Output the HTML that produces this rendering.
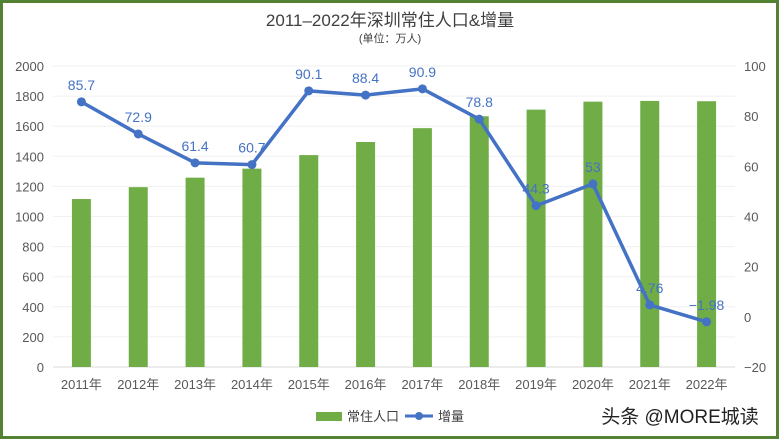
<!DOCTYPE html>
<html><head><meta charset="utf-8"><style>
body{margin:0;background:#fff}
svg{display:block;font-family:"Liberation Sans","Noto Sans CJK SC",sans-serif}
</style></head><body>
<svg id="c" width="779" height="439">
<rect x="1.5" y="1.5" width="776" height="436" fill="#fff" stroke="#548235" stroke-width="3"/>
<text x="390" y="26" text-anchor="middle" font-size="17" fill="#404040">2011–2022年深圳常住人口&amp;增量</text>
<text x="390" y="42" text-anchor="middle" font-size="11" fill="#404040">(单位：万人)</text>
<g id="grid"></g><g id="bars"></g><g id="line"></g><g id="axes"></g>
<g>
<rect x="316" y="412" width="26" height="9" fill="#70ad47"/>
<text x="347" y="421" font-size="13" fill="#404040">常住人口</text>
<line x1="405" y1="416" x2="433" y2="416" stroke="#4472c4" stroke-width="3"/>
<circle cx="419" cy="416" r="4" fill="#4472c4"/>
<text x="438" y="421" font-size="13" fill="#404040">增量</text>
</g>
<text x="680" y="423" text-anchor="middle" font-size="19" fill="#222">头条 @MORE城读</text>
</svg>
<script>
const categories=["2011年","2012年","2013年","2014年","2015年","2016年","2017年","2018年","2019年","2020年","2021年","2022年"];
const population=[1116,1195,1258,1318,1408,1495,1587,1666,1710,1763,1768,1766];
const increase=[85.7,72.9,61.4,60.7,90.1,88.4,90.9,78.8,44.3,53,4.76,-1.98];
const increaseLabels=["85.7","72.9","61.4","60.7","90.1","88.4","90.9","78.8","44.3","53","4.76","−1.98"];
const leftTicks=[0,200,400,600,800,1000,1200,1400,1600,1800,2000];
const rightTicks=[-20,0,20,40,60,80,100];
const NS="http://www.w3.org/2000/svg";
const x0=53,x1=735,yTop=66,yBot=367;
const step=(x1-x0)/categories.length;
const xc=i=>x0+step*(i+0.5);
const yL=v=>yBot-(v/2000)*(yBot-yTop);
const yR=v=>yBot-((v+20)/120)*(yBot-yTop);
function mk(p,tag,a){const e=document.createElementNS(NS,tag);for(const k in a)e.setAttribute(k,a[k]);p.appendChild(e);return e;}
const grid=document.getElementById('grid'),bars=document.getElementById('bars'),line=document.getElementById('line'),axes=document.getElementById('axes');
leftTicks.forEach(t=>{
 const g=mk(grid,'line',{x1:x0,x2:x1,y1:yL(t),y2:yL(t),stroke:t===0?'#d9d9d9':'#f0f0f0','stroke-width':1});
 
 
 const l=mk(axes,'text',{x:44,y:yL(t)+5,'text-anchor':'end','font-size':13,fill:'#595959'});
 l.textContent=t;
 
 
});
rightTicks.forEach(t=>{
 const l=mk(axes,'text',{x:744,y:yR(t)+5,'font-size':13,fill:'#595959'});
 l.textContent=t<0?'−'+Math.abs(t):t;
 
 
});
categories.forEach((c,i)=>{
 const l=mk(axes,'text',{x:xc(i),y:389,'text-anchor':'middle','font-size':13,fill:'#595959'});
 l.textContent=c;
 
 
 const b=mk(bars,'rect',{x:xc(i)-9.5,y:yL(population[i]),width:19,height:yBot-yL(population[i]),fill:'#70ad47'});
 
 
});
const pl=mk(line,'polyline',{points:increase.map((v,i)=>xc(i)+','+yR(v)).join(' '),fill:'none',stroke:'#4472c4','stroke-width':3.5,'stroke-linejoin':'round'});


increase.forEach((v,i)=>{
 const m=mk(line,'circle',{cx:xc(i),cy:yR(v),r:4.5,fill:'#4472c4'});
 
 
 const t=mk(line,'text',{x:xc(i),y:yR(v)-12,'text-anchor':'middle','font-size':14,fill:'#4472c4'});
 t.textContent=increaseLabels[i];
 
 
});
</script>
</body></html>
